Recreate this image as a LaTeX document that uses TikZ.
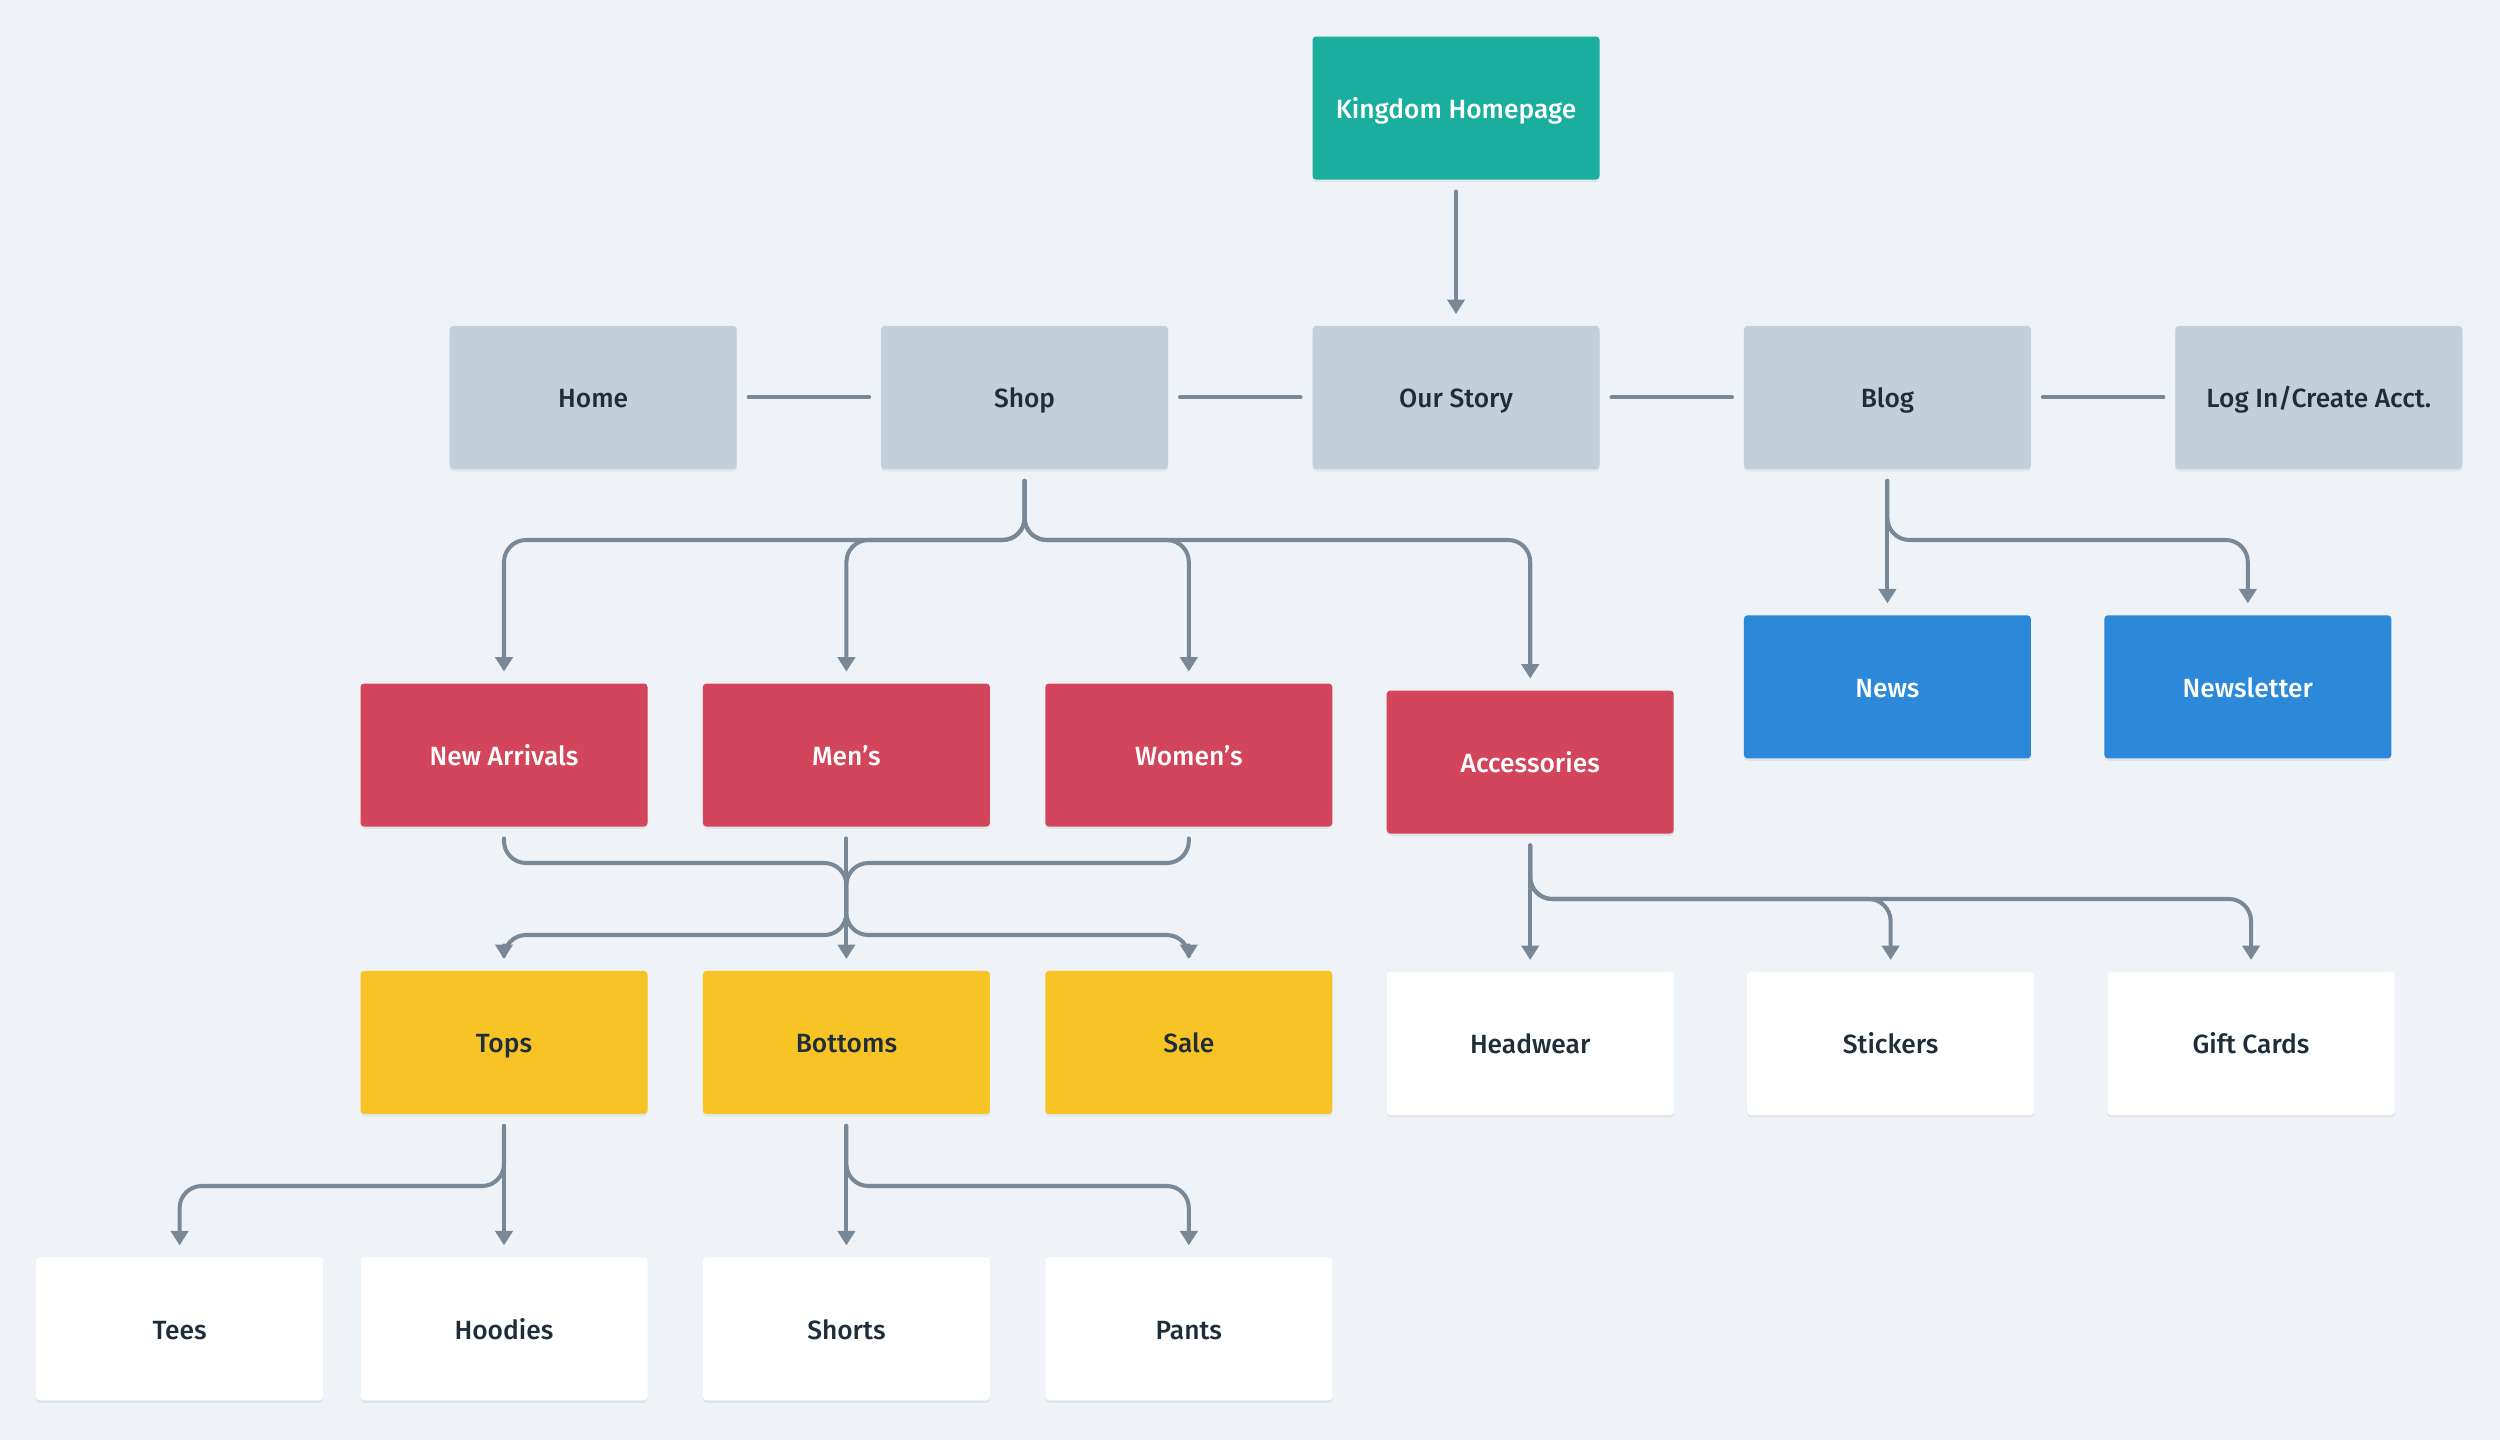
\documentclass[tikz,border=0pt]{standalone}
\usepackage{fontspec}
\setmainfont{Fira Sans}[UprightFont={* Medium}]
\usetikzlibrary{positioning,arrows.meta,shadows}

\definecolor{bgcol}{HTML}{EFF3F7}
\definecolor{navcol}{HTML}{C3CFD9}
\definecolor{topcol}{HTML}{1AAE9F}
\definecolor{catcol}{HTML}{D3455B}
\definecolor{blogcol}{HTML}{2C88D9}
\definecolor{subcol}{HTML}{F7C325}
\definecolor{linecol}{HTML}{788896}
\definecolor{txtcol}{HTML}{1F2D3A}

\tikzset{
  page/.style={rectangle, rounded corners=1pt, minimum width=2.87cm, minimum height=1.43cm,
    inner sep=0pt, font=\fontsize{7.5}{9}\selectfont, text=txtcol,
    text height=0.58em, text depth=0pt,
    drop shadow={shadow xshift=0pt, shadow yshift=-0.7pt, opacity=0.12}},
  root/.style={page, fill=topcol, text=white},
  nav/.style={page, fill=navcol},
  cat/.style={page, fill=catcol, text=white},
  post/.style={page, fill=blogcol, text=white},
  sub/.style={page, fill=subcol},
  leaf/.style={page, fill=white},
  link/.style={draw=linecol, line width=1.15pt, line cap=round, shorten <=3.2pt, shorten >=3.2pt},
  branch/.style={link, rounded corners=0.22cm, -{Triangle[width=4.9pt,length=4.1pt]}}
}

\begin{document}
\begin{tikzpicture}
  \fill[bgcol] (0,0) rectangle (25,-14.4);
  \useasboundingbox (0,0) rectangle (25,-14.4);

  \node[root] (kingdom) at (14.56,-1.08) {Kingdom Homepage};

  \node[nav, below=1.45cm of kingdom] (story) {Our Story};
  \node[nav, left=1.43cm of story] (shop) {Shop};
  \node[nav, left=1.43cm of shop] (home) {Home};
  \node[nav, right=1.43cm of story] (blog) {Blog};
  \node[nav, right=1.43cm of blog] (login) {Log In/Create Acct.};

  \node[post, below=1.45cm of blog] (news) {News};
  \node[post, right=0.72cm of news] (newsletter) {Newsletter};

  \node[cat] (newarr) at (5.04,-7.55) {New Arrivals};
  \node[cat, right=0.54cm of newarr] (mens) {Men's};
  \node[cat, right=0.54cm of mens] (womens) {Women's};
  \node[cat, right=0.53cm of womens, yshift=-0.07cm] (accs) {Accessories};

  \node[sub, below=1.43cm of newarr] (tops) {Tops};
  \node[sub, below=1.43cm of mens] (bottoms) {Bottoms};
  \node[sub, below=1.43cm of womens] (sale) {Sale};

  \node[leaf, below=1.37cm of accs] (headwear) {Headwear};
  \node[leaf, right=0.72cm of headwear] (stickers) {Stickers};
  \node[leaf, right=0.72cm of stickers] (giftcards) {Gift Cards};

  \node[leaf, below=1.42cm of tops] (hoodies) {Hoodies};
  \node[leaf, left=0.36cm of hoodies] (tees) {Tees};
  \node[leaf, below=1.42cm of bottoms] (shorts) {Shorts};
  \node[leaf, below=1.42cm of sale] (pants) {Pants};

  \coordinate (navbus) at (0,-5.40);
  \coordinate (catbusa) at (0,-8.63);
  \coordinate (catbusb) at (0,-9.35);
  \coordinate (accbus) at (0,-8.99);
  \coordinate (subbus) at (0,-11.86);

  \draw[branch] (kingdom.south) -- (story.north);

  \draw[link] (home.east) -- (shop.west);
  \draw[link] (shop.east) -- (story.west);
  \draw[link] (story.east) -- (blog.west);
  \draw[link] (blog.east) -- (login.west);

  \foreach \c in {newarr, mens, womens, accs}
    \draw[branch] (shop.south) |- (\c |- navbus) -- (\c.north);

  \draw[branch] (blog.south) -- (news.north);
  \draw[branch] (blog.south) |- (newsletter |- navbus) -- (newsletter.north);

  \draw[branch] (mens.south) -- (bottoms.north);
  \draw[branch] (newarr.south) |- (mens |- catbusa) -- (mens |- catbusb) -| (tops.north);
  \draw[branch] (womens.south) |- (mens |- catbusa) -- (mens |- catbusb) -| (sale.north);

  \draw[branch] (accs.south) -- (headwear.north);
  \draw[branch] (accs.south) |- (stickers |- accbus) -- (stickers.north);
  \draw[branch] (accs.south) |- (giftcards |- accbus) -- (giftcards.north);

  \draw[branch] (tops.south) -- (hoodies.north);
  \draw[branch] (tops.south) |- (tees |- subbus) -- (tees.north);
  \draw[branch] (bottoms.south) -- (shorts.north);
  \draw[branch] (bottoms.south) |- (pants |- subbus) -- (pants.north);
\end{tikzpicture}
\end{document}
